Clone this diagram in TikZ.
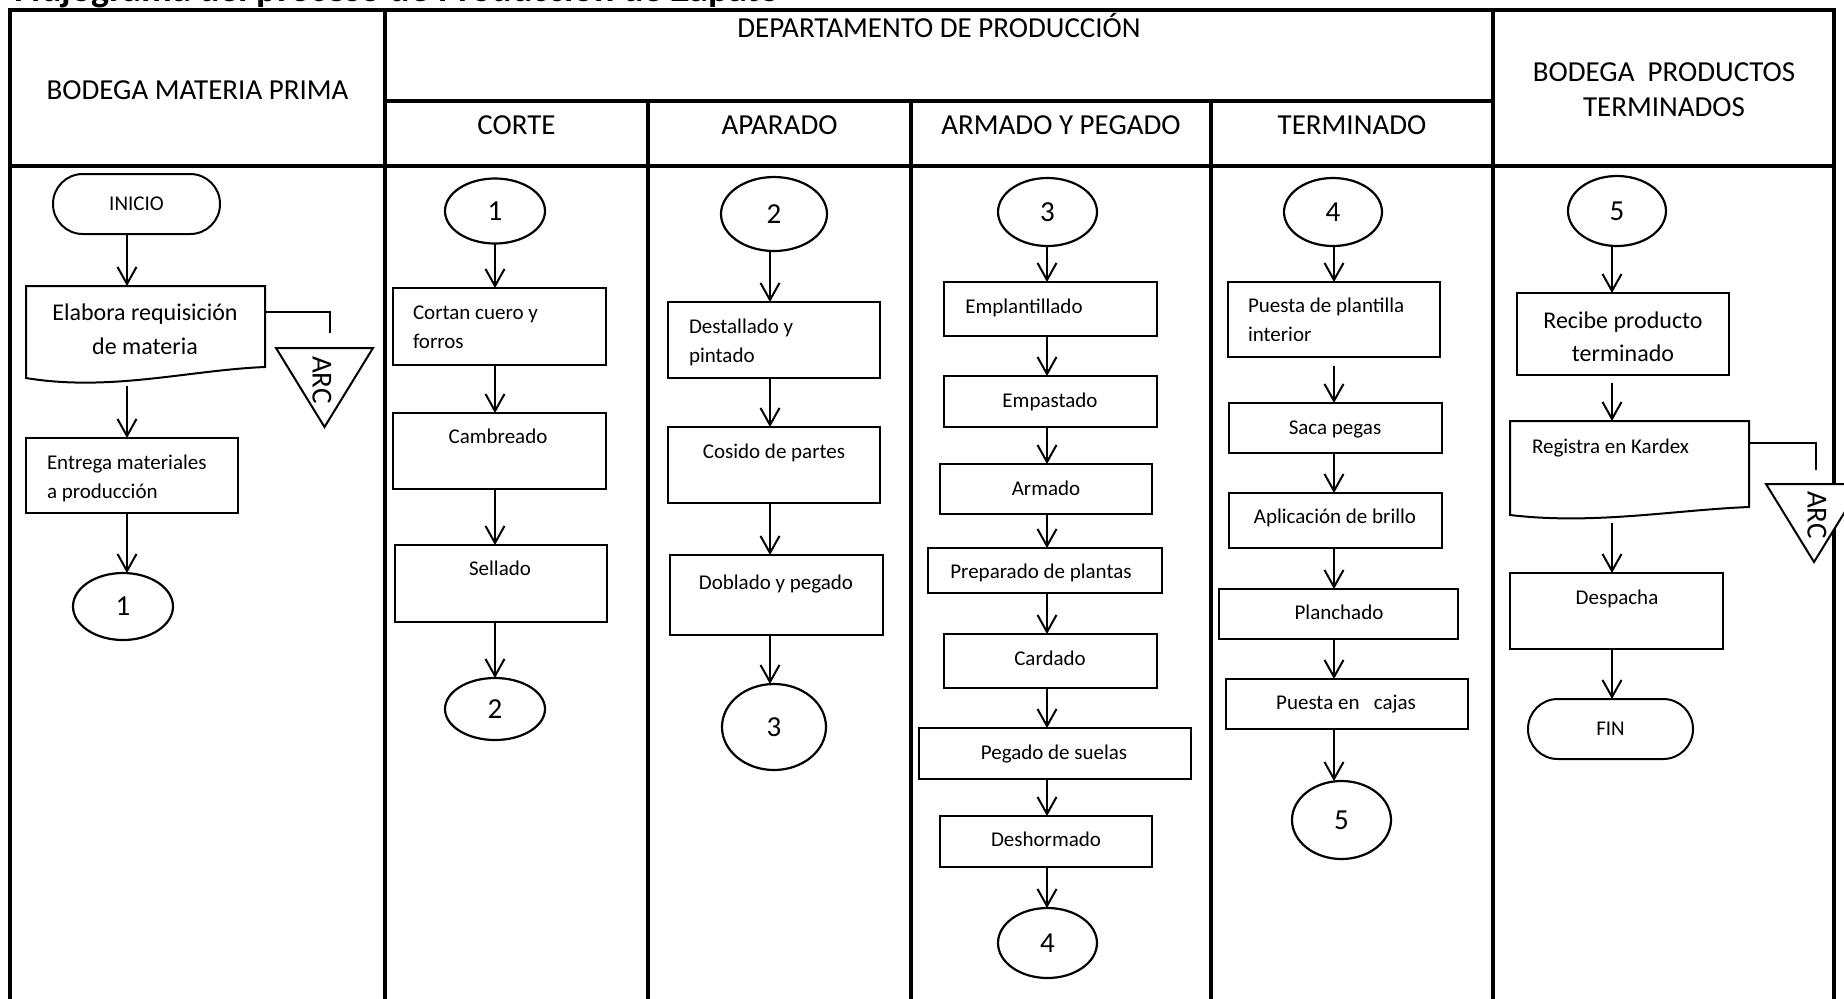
\documentclass[tikz,border=0pt]{standalone}
\usepackage{fontspec}
\setmainfont{Carlito}
\usetikzlibrary{arrows.meta,calc,shapes.geometric}

\begin{document}
\begin{tikzpicture}[x=0.5pt,y=-0.5pt,
  grid/.style={line width=1.6pt},
  box/.style={draw, rectangle, line width=0.75pt, inner sep=0pt, outer sep=0pt},
  docshape/.style={rectangle, inner sep=0pt, outer sep=0pt},
  docline/.style={line width=1pt, line join=miter},
  oval/.style={draw, ellipse, line width=1.1pt, inner sep=0pt, outer sep=0pt,
    font=\fontsize{14.5}{16}\selectfont},
  term/.style={draw, rectangle, rounded corners=14.9pt, line width=1pt,
    inner sep=0pt, outer sep=0pt, minimum height=30pt,
    font=\fontsize{10.5}{12}\selectfont},
  tri/.style={draw, fill=white, line width=1pt, line join=miter},
  link/.style={line width=1pt},
  arr/.style={-{Straight Barb[length=8.5pt,width=9.5pt]}, line width=1pt},
  t/.style={inner sep=0pt, outer sep=0pt, text height=6.8pt, text depth=0pt,
    font=\fontsize{10.5}{12}\selectfont},
  tb/.style={inner sep=0pt, outer sep=0pt, text height=7.7pt, text depth=0pt,
    font=\fontsize{12}{14}\selectfont},
  th/.style={inner sep=0pt, outer sep=0pt, text height=9.3pt, text depth=0pt,
    font=\fontsize{14.5}{16}\selectfont}]

\useasboundingbox (0,0) rectangle (1844,998);

% title line at the top edge of the page
\node[anchor=base west, inner sep=0pt, font=\fontsize{19}{22}\selectfont\bfseries]
  (title) at (14,1.5) {Flujograma del proceso de Producción de Zapato};

% swimlane table
\draw[grid] (10,1010) -- (10,10) -- (1834,10) -- (1834,1010);
\draw[grid] (10,166) -- (1834,166);
\draw[grid] (385,10) -- (385,1010);
\draw[grid] (1493,10) -- (1493,1010);
\draw[grid] (385,101) -- (1493,101);
\foreach \x in {648,911,1211} \draw[grid] (\x,101) -- (\x,1010);

% lane headings
\node[th] (h-bmp)  at (197.5,90) {BODEGA MATERIA PRIMA};
\node[th] (h-dep)  at (939,28)   {DEPARTAMENTO DE PRODUCCIÓN};
\node[th] (h-bpt1) at (1664,72)  {BODEGA\ \ PRODUCTOS};
\node[th] (h-bpt2) at (1664,107) {TERMINADOS};
\node[th] (h-cor)  at (516.5,125) {CORTE};
\node[th] (h-apa)  at (779.5,125) {APARADO};
\node[th] (h-arm)  at (1061,125)  {ARMADO Y PEGADO};
\node[th] (h-ter)  at (1352,125)  {TERMINADO};

% arrow columns
\coordinate (x1) at (127,0);
\coordinate (x2) at (495,0);
\coordinate (x3) at (770,0);
\coordinate (x4) at (1047,0);
\coordinate (x5) at (1334,0);
\coordinate (x6) at (1612,0);

% ---------- BODEGA MATERIA PRIMA ----------
\node[term, minimum width=83.5pt] (ini) at (136.5,204) {INICIO};
\node[docshape, minimum width=119.5pt, minimum height=46pt] (doc1) at (145.5,332) {};
\draw[docline] (doc1.north west) -- (doc1.north east) -- ($(doc1.south east)+(0,-11)$)
  .. controls ($(doc1.south east)+(-75,-8)$) and ($(doc1.south west)+(84,14)$) .. (doc1.south west) -- cycle;
\node[tb] (t-doc1a) at (145,313) {Elabora requisición};
\node[tb] (t-doc1b) at (145,347) {de materia};
\node[box, minimum width=106pt, minimum height=37.5pt] (ent) at (132,475.5) {};
\node[t, anchor=west] (t-ent1) at (47,463) {Entrega materiales};
\node[t, anchor=west] (t-ent2) at (47,492) {a producción};
\node[oval, minimum width=50pt, minimum height=33.5pt] (c1a) at (123,606.5) {1};

\coordinate (arcAin) at (330,333);
\draw[link] ($(doc1.north east)+(0,26)$) -| (arcAin);
\draw[tri] (276,348) -- (373,348) -- (324.5,427) -- cycle;
\node[th, rotate=-90] (arcA) at (322,380) {ARC};

\draw[arr] (ini.south -| x1) -- (doc1.north -| x1);
\draw[arr, shorten <=4pt] (doc1.south -| x1) -- (ent.north -| x1);
\draw[arr] (ent.south -| x1) -- (c1a.north -| x1);

% ---------- CORTE ----------
\node[oval, minimum width=50pt, minimum height=32.5pt] (c1b) at (495,211) {1};
\node[box, minimum width=106.5pt, minimum height=38.5pt] (cort) at (499.5,326.5) {};
\node[t, anchor=west] (t-cort1) at (413,313) {Cortan cuero y};
\node[t, anchor=west] (t-cort2) at (413,342) {forros};
\node[box, minimum width=106.5pt, minimum height=38pt] (camb) at (499.5,451) {};
\node[t] (t-camb) at (498,437) {Cambreado};
\node[box, minimum width=106pt, minimum height=38.5pt] (sell) at (501,583.5) {};
\node[t] (t-sell) at (500,569) {Sellado};
\node[oval, minimum width=50pt, minimum height=31pt] (c2a) at (495,709) {2};

\draw[arr] (c1b.south -| x2) -- (cort.north -| x2);
\draw[arr] (cort.south -| x2) -- (camb.north -| x2);
\draw[arr] (camb.south -| x2) -- (sell.north -| x2);
\draw[arr] (sell.south -| x2) -- (c2a.north -| x2);

% ---------- APARADO ----------
\node[oval, minimum width=53pt, minimum height=37pt] (c2b) at (774,214) {2};
\node[box, minimum width=106pt, minimum height=38pt] (dest) at (774,340) {};
\node[t, anchor=west] (t-dest1) at (689,327) {Destallado y};
\node[t, anchor=west] (t-dest2) at (689,356) {pintado};
\node[box, minimum width=106pt, minimum height=38pt] (cos) at (774,465) {};
\node[t] (t-cos) at (774,452) {Cosido de partes};
\node[box, minimum width=106.5pt, minimum height=40pt] (dob) at (776.5,595) {};
\node[t] (t-dob) at (776,583) {Doblado y pegado};
\node[oval, minimum width=52pt, minimum height=43pt] (c3a) at (774,727) {3};

\draw[arr] (c2b.south -| x3) -- (dest.north -| x3);
\draw[arr] (dest.south -| x3) -- (cos.north -| x3);
\draw[arr] (cos.south -| x3) -- (dob.north -| x3);
\draw[arr] (dob.south -| x3) -- (c3a.north -| x3);

% ---------- ARMADO Y PEGADO ----------
\node[oval, minimum width=49.5pt, minimum height=34pt] (c3b) at (1047.5,212) {3};
\node[box, minimum width=106.5pt, minimum height=27pt] (empl) at (1050.5,309) {};
\node[t] (t-empl) at (1024,307) {Emplantillado};
\node[box, minimum width=106.5pt, minimum height=25.5pt] (empa) at (1050.5,401.5) {};
\node[t] (t-empa) at (1050,401) {Empastado};
\node[box, minimum width=106pt, minimum height=25pt] (arma) at (1046,489) {};
\node[t] (t-arma) at (1046,489) {Armado};
\node[box, minimum width=117pt, minimum height=22.5pt] (prep) at (1045,570.5) {};
\node[t] (t-prep) at (1041,572) {Preparado de plantas};
\node[box, minimum width=106.5pt, minimum height=27pt] (card) at (1050.5,661) {};
\node[t] (t-card) at (1050,659) {Cardado};
\node[box, minimum width=136pt, minimum height=25.5pt] (peg) at (1055,753.5) {};
\node[t] (t-peg) at (1054,753) {Pegado de suelas};
\node[box, minimum width=106pt, minimum height=25.5pt] (desh) at (1046,841.5) {};
\node[t] (t-desh) at (1046,840) {Deshormado};
\node[oval, minimum width=49.5pt, minimum height=35pt] (c4a) at (1047.5,943) {4};

\draw[arr] (c3b.south -| x4) -- (empl.north -| x4);
\draw[arr] (empl.south -| x4) -- (empa.north -| x4);
\draw[arr] (empa.south -| x4) -- (arma.north -| x4);
\draw[arr] (arma.south -| x4) -- (prep.north -| x4);
\draw[arr] (prep.south -| x4) -- (card.north -| x4);
\draw[arr] (card.south -| x4) -- (peg.north -| x4);
\draw[arr] (peg.south -| x4) -- (desh.north -| x4);
\draw[arr] (desh.south -| x4) -- (c4a.north -| x4);

% ---------- TERMINADO ----------
\node[oval, minimum width=49pt, minimum height=34pt] (c4b) at (1333,212) {4};
\node[box, minimum width=106pt, minimum height=37.5pt] (pues) at (1334,319.5) {};
\node[t, anchor=west] (t-pues1) at (1248,306) {Puesta de plantilla};
\node[t, anchor=west] (t-pues2) at (1248,335) {interior};
\node[box, minimum width=106.5pt, minimum height=25pt] (saca) at (1335.5,428) {};
\node[t] (t-saca) at (1335,428) {Saca pegas};
\node[box, minimum width=106.5pt, minimum height=27.5pt] (apli) at (1335.5,520.5) {};
\node[t] (t-apli) at (1335,517) {Aplicación de brillo};
\node[box, minimum width=119.5pt, minimum height=25pt] (plan) at (1338.5,614) {};
\node[t] (t-plan) at (1339,613) {Planchado};
\node[box, minimum width=121pt, minimum height=25pt] (caja) at (1347,704) {};
\node[t] (t-caja) at (1346,703) {Puesta en\ \ \ cajas};
\node[oval, minimum width=49.5pt, minimum height=39pt] (c5a) at (1341.5,820) {5};

\draw[arr] (c4b.south -| x5) -- (pues.north -| x5);
\draw[arr, shorten <=4.5pt] (pues.south -| x5) -- (saca.north -| x5);
\draw[arr] (saca.south -| x5) -- (apli.north -| x5);
\draw[arr] (apli.south -| x5) -- (plan.north -| x5);
\draw[arr] (plan.south -| x5) -- (caja.north -| x5);
\draw[arr] (caja.south -| x5) -- (c5a.north -| x5);

% ---------- BODEGA PRODUCTOS TERMINADOS ----------
\node[oval, minimum width=49pt, minimum height=35pt] (c5b) at (1617,211) {5};
\node[box, minimum width=106pt, minimum height=41pt] (rec) at (1623,334) {};
\node[tb] (t-rec1) at (1623,321) {Recibe producto};
\node[tb] (t-rec2) at (1623,354) {terminado};
\node[docshape, minimum width=119.5pt, minimum height=47pt] (reg) at (1629.5,468) {};
\draw[docline] (reg.north west) -- (reg.north east) -- ($(reg.south east)+(0,-8)$)
  .. controls ($(reg.south east)+(-75,-5)$) and ($(reg.south west)+(84,10)$) .. (reg.south west) -- cycle;
\node[t, anchor=west] (t-reg) at (1532,447) {Registra en Kardex};
\node[box, minimum width=106.5pt, minimum height=38pt] (desp) at (1616.5,611) {};
\node[t] (t-desp) at (1617,598) {Despacha};
\node[term, minimum width=82.5pt] (fin) at (1610.5,729) {FIN};

\coordinate (arcBin) at (1816,470);
\draw[link] ($(reg.north east)+(0,22)$) -| (arcBin);
\draw[tri] (1766,484) -- (1862,484) -- (1814,562) -- cycle;
\node[th, rotate=-90] (arcB) at (1817,515) {ARC};

\draw[arr] (c5b.south -| x6) -- (rec.north -| x6);
\draw[arr, shorten <=4pt] (rec.south -| x6) -- (reg.north -| x6);
\draw[arr, shorten <=4pt] (reg.south -| x6) -- (desp.north -| x6);
\draw[arr] (desp.south -| x6) -- (fin.north -| x6);

\end{tikzpicture}
\end{document}
